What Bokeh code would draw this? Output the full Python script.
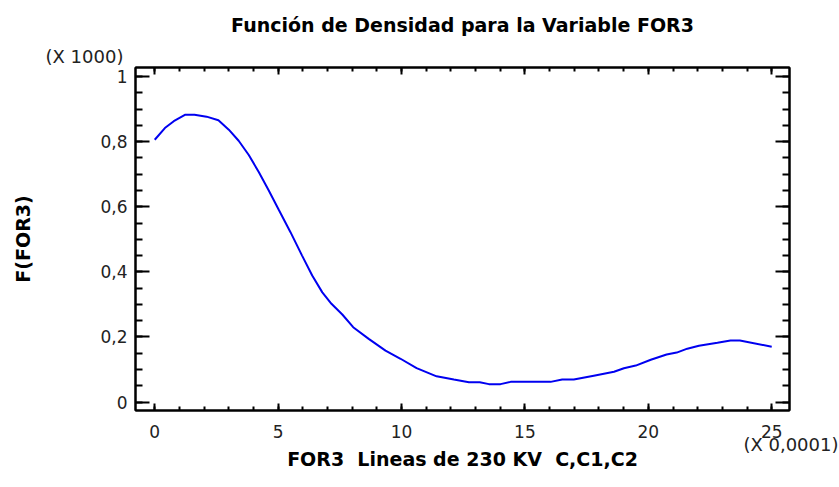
from bokeh.plotting import figure
from bokeh.models import (Range1d, LinearAxis, FixedTicker, CustomJSTickFormatter, Title)
from bokeh.embed import file_html
from bokeh.resources import INLINE

# ---- data ----
x_vals = [0.0, 0.41, 0.77, 1.24, 1.61, 2.10, 2.58, 3.0, 3.4, 3.81, 4.22, 4.62, 5.03, 5.50,
          5.97, 6.38, 6.79, 7.16, 7.60, 8.04, 8.67, 9.35, 9.96, 10.61, 11.42, 12.12, 12.73,
          13.17, 13.54, 14.01, 14.42, 16.04, 16.51, 16.98, 17.79, 18.61, 19.01, 19.49, 20.1,
          20.74, 21.15, 21.58, 22.05, 22.8, 23.33, 23.71, 25.0]
density = [0.806, 0.842, 0.863, 0.883, 0.883, 0.877, 0.866, 0.837, 0.803, 0.759, 0.706, 0.650,
           0.590, 0.522, 0.450, 0.389, 0.337, 0.302, 0.269, 0.230, 0.194, 0.158, 0.133, 0.104,
           0.079, 0.069, 0.061, 0.061, 0.055, 0.055, 0.062, 0.062, 0.069, 0.069, 0.081, 0.093,
           0.104, 0.112, 0.130, 0.146, 0.152, 0.164, 0.173, 0.182, 0.189, 0.189, 0.170]
x_ticks = [0, 5, 10, 15, 20, 25]
x_minor = list(range(0, 26))
y_ticks = [0, 0.2, 0.4, 0.6, 0.8, 1]
y_minor = [i * 0.05 for i in range(0, 21)]

title_text = "Función de Densidad para la Variable FOR3"
x_label = "FOR3\u00a0 Lineas de 230 KV\u00a0 C,C1,C2"
y_label = "F(FOR3)"
y_scale_note = "(X 1000)"
x_scale_note = "(X 0,0001)"

X0, X1 = -0.78, 25.72
Y0, Y1 = -0.026, 1.028

FONT = "DejaVu Sans"
TICK_SIZE = "17px"
NOTE_SIZE = "18px"
LABEL_SIZE = "19px"

p = figure(width=839, height=487, x_range=Range1d(X0, X1), y_range=Range1d(Y0, Y1),
           output_backend="svg", toolbar_location=None,
           min_border_left=135, min_border_right=50, min_border_top=67, min_border_bottom=77)
p.grid.visible = False
p.outline_line_color = "black"
p.outline_line_width = 2
p.background_fill_color = "white"
p.border_fill_color = "white"

p.line(x_vals, density, line_color="#0000f0", line_width=2)

fmt_y = CustomJSTickFormatter(code="""
if (Math.abs(tick) < 1e-9) return "0";
if (Math.abs(tick - 1) < 1e-9) return "1";
return tick.toFixed(1).replace('.', ',');
""")
blank = CustomJSTickFormatter(code="return '';")


def style(ax, major, minor):
    ax.axis_line_color = "black"
    ax.axis_line_width = 2
    ax.major_tick_line_color = "black"
    ax.major_tick_line_width = 2
    ax.minor_tick_line_color = "black"
    ax.minor_tick_line_width = 2
    ax.major_tick_in = major
    ax.major_tick_out = 0
    ax.minor_tick_in = minor
    ax.minor_tick_out = 0
    ax.major_label_text_font = FONT
    ax.major_label_text_font_size = TICK_SIZE
    ax.major_label_text_color = "#222222"


def set_standoff(t, v, fallback):
    try:
        t.standoff = v
    except Exception:
        t.standoff = fallback


# bottom axis
xb = p.xaxis[0]
xb.ticker = FixedTicker(ticks=x_ticks, minor_ticks=x_minor)
style(xb, 7, 4)
xb.major_label_standoff = 14

# left axis with its label
yl = p.yaxis[0]
yl.ticker = FixedTicker(ticks=y_ticks, minor_ticks=y_minor)
yl.formatter = fmt_y
style(yl, 14, 7)
yl.major_label_standoff = 8
yl.axis_label = y_label
yl.axis_label_standoff = 63
yl.axis_label_text_font = FONT
yl.axis_label_text_font_size = LABEL_SIZE
yl.axis_label_text_font_style = "bold"
yl.axis_label_text_color = "black"

# top & right axes: ticks only
xt = LinearAxis(ticker=FixedTicker(ticks=x_ticks, minor_ticks=x_minor), formatter=blank)
style(xt, 7, 4)
xt.major_label_standoff = 0
p.add_layout(xt, "above")
yr = LinearAxis(ticker=FixedTicker(ticks=y_ticks, minor_ticks=y_minor), formatter=blank)
style(yr, 14, 7)
yr.major_label_standoff = 0
p.add_layout(yr, "right")

p.title.visible = False

# notes and titles as stacked panels
t_note_y = Title(text=y_scale_note, align="left", offset=-90,
                 text_font=FONT, text_font_size=NOTE_SIZE, text_font_style="normal",
                 text_color="#222222")
set_standoff(t_note_y, 2, 0)
p.add_layout(t_note_y, "above")
t_main = Title(text=title_text, align="center", offset=32, standoff=14,
               text_font=FONT, text_font_size=LABEL_SIZE, text_font_style="bold",
               text_color="black")
p.add_layout(t_main, "above")

t_note_x = Title(text=x_scale_note, align="right", offset=-49,
                 text_font=FONT, text_font_size=NOTE_SIZE, text_font_style="normal",
                 text_color="#222222")
set_standoff(t_note_x, -18, 0)
p.add_layout(t_note_x, "below")
t_xlab = Title(text=x_label, align="center", offset=-6,
               text_font=FONT, text_font_size=LABEL_SIZE, text_font_style="bold",
               text_color="black")
set_standoff(t_xlab, 1, 0)
p.add_layout(t_xlab, "below")

open("out.html", "w").write(file_html(p, INLINE))
